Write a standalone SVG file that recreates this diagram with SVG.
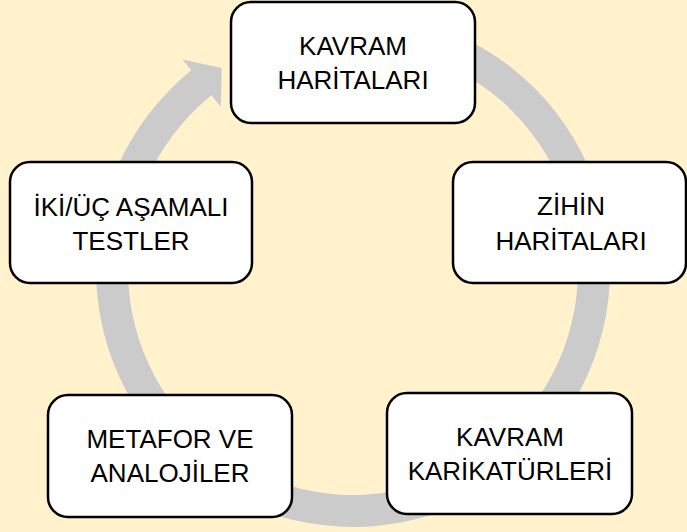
<svg xmlns="http://www.w3.org/2000/svg" width="687" height="532" viewBox="0 0 687 532">
  <style>
    .box { fill: #FFFFFF; stroke: #000000; stroke-width: 2.5; }
    .lbl { font-family: "Liberation Sans", Arial, sans-serif; font-size: 26px; fill: #000000; text-anchor: middle; }
    .ring { fill: #CBCBCB; stroke: none; }
  </style>
  <rect x="0" y="0" width="687" height="532" fill="#FFF2CC"/>
  <g id="connectors">
    <path class="ring" d="M 308.37 16.9 A 257 257 0 1 1 191.27 70.27 L 182.45 59.39 L 221.74 67.88 L 220.84 106.8 L 211.4 95.14 A 225 225 0 1 0 313.93 48.42 Z"/>
  </g>
  <g id="node-kavram-haritalari">
    <rect class="box" x="231" y="2" width="244" height="121" rx="20" ry="20"/>
    <text class="lbl" x="353" y="55">KAVRAM</text>
    <text class="lbl" x="353" y="89">HARİTALARI</text>
  </g>
  <g id="node-zihin-haritalari">
    <rect class="box" x="453" y="162" width="233" height="121" rx="20" ry="20"/>
    <text class="lbl" x="571" y="215">ZİHİN</text>
    <text class="lbl" x="571" y="249.5">HARİTALARI</text>
  </g>
  <g id="node-kavram-karikaturleri">
    <rect class="box" x="387" y="393" width="245" height="121" rx="20" ry="20"/>
    <text class="lbl" x="510" y="445.5">KAVRAM</text>
    <text class="lbl" x="510" y="480">KARİKATÜRLERİ</text>
  </g>
  <g id="node-metafor">
    <rect class="box" x="48" y="395" width="244" height="122" rx="20" ry="20"/>
    <text class="lbl" x="170" y="447.5">METAFOR VE</text>
    <text class="lbl" x="170" y="482">ANALOJİLER</text>
  </g>
  <g id="node-testler">
    <rect class="box" x="10" y="162" width="242" height="121" rx="20" ry="20"/>
    <text class="lbl" x="131" y="215.5">İKİ/ÜÇ AŞAMALI</text>
    <text class="lbl" x="131" y="250">TESTLER</text>
  </g>
</svg>
